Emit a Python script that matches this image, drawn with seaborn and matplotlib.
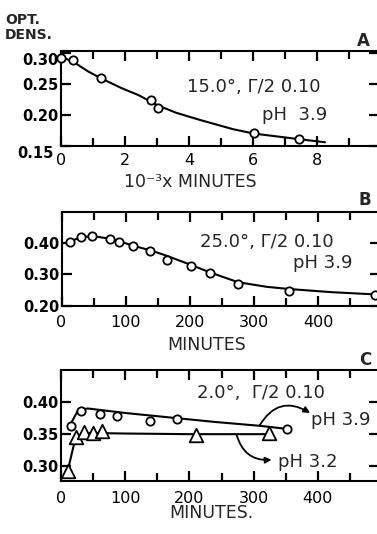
import matplotlib
matplotlib.use("Agg")
import matplotlib.pyplot as plt
import seaborn as sns
from matplotlib.ticker import MultipleLocator
from matplotlib.transforms import ScaledTranslation

# ---------------- data ----------------
# Panel A: 15.0 deg, Gamma/2 0.10, pH 3.9  (x = 10^-3 x minutes)
a_pts_x = [0.0, 0.38, 1.25, 2.81, 3.02, 6.03, 7.45]
a_pts_y = [0.292, 0.289, 0.259, 0.224, 0.211, 0.171, 0.161]
a_curve_x = [0.0, 0.4, 0.85, 1.25, 1.9, 2.42, 3.0, 3.6, 4.34, 5.38, 6.03, 7.44, 8.25]
a_curve_y = [0.294, 0.285, 0.270, 0.259, 0.243, 0.232, 0.216, 0.2035, 0.192, 0.177, 0.170, 0.161, 0.156]

# Panel B: 25.0 deg, Gamma/2 0.10, pH 3.9 (minutes)
b_pts_x = [13, 30, 47, 75, 89, 112, 138, 164, 201, 232, 275, 355, 488]
b_pts_y = [0.403, 0.420, 0.425, 0.413, 0.404, 0.390, 0.376, 0.345, 0.328, 0.304, 0.269, 0.248, 0.234]
b_curve_x = [8, 20, 35, 50, 75, 90, 112, 138, 164, 200, 232, 275, 320, 355, 420, 495]
b_curve_y = [0.400, 0.412, 0.421, 0.423, 0.415, 0.407, 0.392, 0.378, 0.360, 0.332, 0.306, 0.275, 0.260, 0.253, 0.243, 0.235]

# Panel C: 2.0 deg, Gamma/2 0.10 (minutes)
c39_x = [15, 31, 61.5, 87, 138, 180, 352]
c39_y = [0.362, 0.386, 0.382, 0.379, 0.370, 0.374, 0.358]
c39_curve_x = [14, 27, 42, 100, 180, 240, 310, 345]
c39_curve_y = [0.364, 0.388, 0.390, 0.383, 0.375, 0.369, 0.363, 0.359]
c32_x = [10.5, 23, 36, 50, 64, 210, 324]
c32_y = [0.293, 0.346, 0.354, 0.3515, 0.355, 0.349, 0.3515]
c32_curve_x = [10.5, 23, 36, 100, 200, 324]
c32_curve_y = [0.293, 0.346, 0.352, 0.351, 0.350, 0.350]

a_xticks = [0, 2, 4, 6, 8]
a_yticks = [0.15, 0.20, 0.25, 0.30]
bc_xticks = [0, 100, 200, 300, 400]
b_yticks = [0.20, 0.30, 0.40]
c_yticks = [0.30, 0.35, 0.40]

# ---------------- style ----------------
sns.set_style("ticks")
plt.rcParams["font.family"] = ["DejaVu Sans"]
plt.rcParams["axes.linewidth"] = 1.5

fig = plt.figure(figsize=(3.77, 5.34), dpi=100)
W = 318 / 377
axA = fig.add_axes([61 / 377, (534 - 146) / 534, W, 95 / 534])
axB = fig.add_axes([61.5 / 377, (534 - 305.5) / 534, W, 93.2 / 534])
axC = fig.add_axes([61 / 377, (534 - 481) / 534, W, 111 / 534])

circ = dict(marker="o", s=36, color="white", edgecolor="black", linewidth=1.3,
            zorder=4, clip_on=False, legend=False)
tri = dict(marker="^", s=95, color="white", edgecolor="black", linewidth=1.3,
           zorder=4, clip_on=False, legend=False)
line = dict(color="black", linewidth=1.5, sort=False, estimator=None, legend=False)

# Panel A
sns.lineplot(x=a_curve_x, y=a_curve_y, ax=axA, **line)
sns.scatterplot(x=a_pts_x, y=a_pts_y, ax=axA, **circ)
axA.set_xlim(0, 318 / 32)
axA.set_ylim(0.15, 0.303)
axA.set_xticks(a_xticks)
axA.set_xticklabels([str(t) for t in a_xticks])
axA.xaxis.set_minor_locator(MultipleLocator(1))
axA.set_yticks(a_yticks)
axA.set_yticklabels([f"{t:.2f}" for t in a_yticks])

# Panel B
sns.lineplot(x=b_curve_x, y=b_curve_y, ax=axB, **line)
sns.scatterplot(x=b_pts_x, y=b_pts_y, ax=axB, **circ)
axB.set_xlim(0, 318 / 0.642)
axB.set_ylim(0.20, 0.50)
axB.set_yticks(b_yticks)
axB.set_yticklabels([f"{t:.2f}" for t in b_yticks])

# Panel C
sns.lineplot(x=c39_curve_x, y=c39_curve_y, ax=axC, **line)
sns.lineplot(x=c32_curve_x, y=c32_curve_y, ax=axC, **line)
sns.scatterplot(x=c39_x, y=c39_y, ax=axC, **circ)
sns.scatterplot(x=c32_x, y=c32_y, ax=axC, **tri)
axC.set_xlim(0, 318 / 0.642)
axC.set_ylim(0.277, 0.45)
axC.set_yticks(c_yticks)
axC.set_yticklabels([f"{t:.2f}" for t in c_yticks])

for ax in (axB, axC):
    ax.set_xticks(bc_xticks)
    ax.set_xticklabels([str(t) for t in bc_xticks])
    ax.xaxis.set_minor_locator(MultipleLocator(50))

for ax, xpad in ((axA, 5), (axB, 6.5), (axC, 7)):
    ax.tick_params(which="both", direction="in", top=True, right=True,
                   bottom=True, left=True, width=1.6, colors="black")
    ax.tick_params(which="major", length=7.5)
    ax.tick_params(which="minor", length=5.5)
    ax.tick_params(axis="x", labelsize=11.5, pad=xpad)
    ax.tick_params(axis="y", labelsize=10.5, pad=1.5)
    for lab in ax.get_yticklabels():
        lab.set_fontweight("bold")
    for s in ax.spines.values():
        s.set_visible(True)
        s.set_color("black")
        s.set_linewidth(1.5)
    ax.set_ylabel("")

# corner labels of A sit lower / further left
ylabsA = axA.get_yticklabels()
ylabsA[0].set_verticalalignment("top")
ylabsA[-1].set_verticalalignment("top")
ylabsA[0].set_transform(ylabsA[0].get_transform()
                        + ScaledTranslation(-0.05, 0, fig.dpi_scale_trans))

# x labels
axA.set_xlabel("10\u207b\u00b3x MINUTES", fontsize=12.5)
axA.xaxis.set_label_coords(0.406, -0.376)
axA.xaxis.label.set_verticalalignment("center")
axB.set_xlabel("MINUTES", fontsize=12.5)
axB.xaxis.set_label_coords(0.457, -0.424)
axB.xaxis.label.set_verticalalignment("center")
axC.set_xlabel("MINUTES.", fontsize=12.5)
axC.xaxis.set_label_coords(0.472, -0.292)
axC.xaxis.label.set_verticalalignment("center")

# annotations
tkw = dict(fontsize=13, ha="center", va="center")
axA.text(6.03, 0.245, "15.0\u00b0, \u0393/2 0.10", **tkw)
axA.text(7.31, 0.200, "pH  3.9", **tkw)
axB.text(320, 0.406, "25.0\u00b0, \u0393/2 0.10", **tkw)
axB.text(407, 0.337, "pH 3.9", **tkw)
axC.text(311.5, 0.4145, "2.0\u00b0,  \u0393/2 0.10", **tkw)
axC.text(389, 0.372, "pH 3.9", fontsize=13, ha="left", va="center")
axC.text(338.5, 0.307, "pH 3.2", fontsize=13, ha="left", va="center")

akw = dict(arrowstyle="-|>", color="black", lw=1.3, mutation_scale=9,
           shrinkA=0, shrinkB=0)
axC.annotate("", xy=(388, 0.383), xytext=(309, 0.363),
             arrowprops=dict(connectionstyle="arc3,rad=-0.5", **akw))
axC.annotate("", xy=(328, 0.310), xytext=(273.6, 0.349),
             arrowprops=dict(connectionstyle="arc3,rad=0.4", **akw))

# panel letters and y title
fig.text(363 / 377, 1 - 41 / 534, "A", fontsize=12, fontweight="bold", ha="center", va="center")
fig.text(365 / 377, 1 - 200 / 534, "B", fontsize=12, fontweight="bold", ha="center", va="center")
fig.text(365 / 377, 1 - 360 / 534, "C", fontsize=12, fontweight="bold", ha="center", va="center")
fig.text(5 / 377, 1 - 13 / 534, "OPT.\nDENS.", fontsize=10, fontweight="bold",
         ha="left", va="top", linespacing=1.1)

fig.savefig("out.png", dpi=100, facecolor="white")
